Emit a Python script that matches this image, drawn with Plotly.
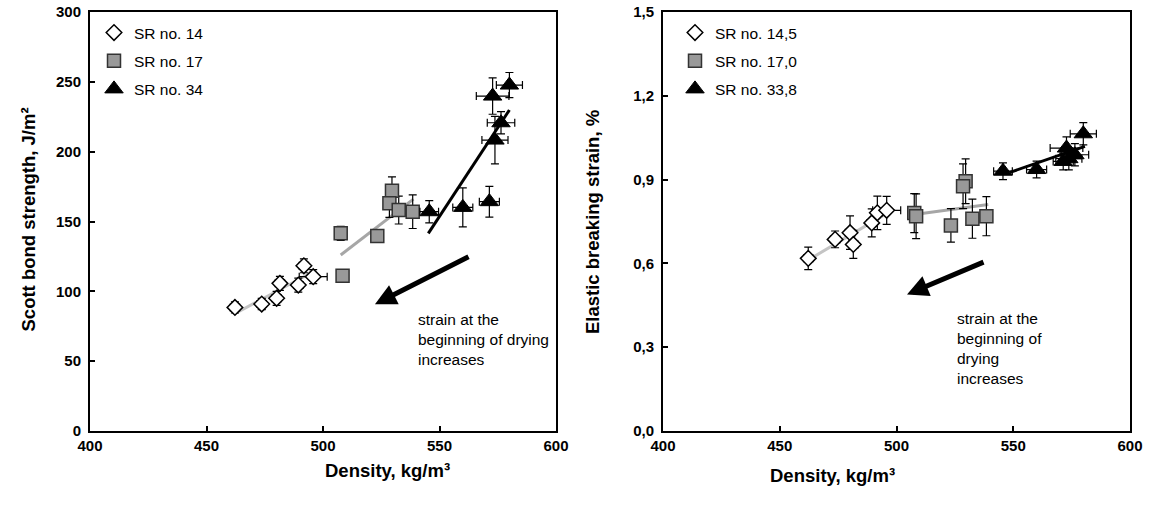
import plotly.graph_objects as go

# ---------------- data ----------------
# density, kg/m3 (same samples in both panels)
dens_14 = [462.2, 473.7, 480.1, 481.5, 489.4, 491.8, 495.8]
dens_17 = [507.6, 523.3, 508.4, 529.6, 528.5, 532.5, 538.5]
dens_34 = [545.6, 560.0, 571.4, 573.8, 572.8, 580.0, 576.4]
dens_err_14 = [2, 2, 2, 2, 2, 2, 6]
dens_err_17 = [2, 1, 1, 2, 2, 2, 2]
dens_err_34 = [4, 4.3, 4.3, 5.6, 7, 5.6, 5.9]

# Scott bond strength, J/m2
scott_14 = [88.5, 90.9, 95.0, 105.7, 104.5, 118.3, 110.5]
scott_17 = [141.5, 139.6, 111.2, 172.0, 163.0, 158.2, 157.0]
scott_34 = [157.0, 160.1, 164.2, 208.3, 239.8, 247.7, 220.7]
scott_err_14 = [4, 4, 5, 5, 5, 5, 5]
scott_err_17 = [5, 3, 3, 10, 10, 10, 12]
scott_err_34 = [8, 14, 11, 17, 13, 9, 8]

# elastic breaking strain, %
strain_14 = [0.618, 0.686, 0.710, 0.668, 0.745, 0.781, 0.790]
strain_17 = [0.780, 0.736, 0.769, 0.894, 0.876, 0.760, 0.769]
strain_34 = [0.930, 0.936, 0.965, 0.975, 1.013, 1.064, 0.989]
strain_err_14 = [0.04, 0.03, 0.06, 0.05, 0.05, 0.06, 0.05]
strain_err_17 = [0.07, 0.06, 0.08, 0.08, 0.08, 0.07, 0.07]
strain_err_34 = [0.03, 0.03, 0.03, 0.04, 0.04, 0.04, 0.04]

# trend lines (end points)
trend_scott_14 = ([462.9, 495.8], [84.7, 114.0])
trend_scott_17 = ([507.6, 538.8], [126.0, 166.0])
trend_scott_34 = ([545.2, 580.0], [141.5, 229.8])
trend_strain_14 = ([463.2, 495.8], [0.617, 0.779])
trend_strain_17 = ([510.8, 539.3], [0.779, 0.811])
trend_strain_34 = ([548.6, 580.7], [0.926, 1.019])

names_left = ["SR no. 14", "SR no. 17", "SR no. 34"]
names_right = ["SR no. 14,5", "SR no. 17,0", "SR no. 33,8"]

x_ticks = [400, 450, 500, 550, 600]
y_ticks_left = [0, 50, 100, 150, 200, 250, 300]
y_ticks_right = [0.0, 0.3, 0.6, 0.9, 1.2, 1.5]

FONT = "Arial, Liberation Sans, sans-serif"
W, H = 1150, 512


def fx(px):                  # screen px -> paper x
    return px / W


def fy(py):                  # screen px -> paper y
    return 1 - py / H


# ---------------- figure ----------------
fig = go.Figure()

styles = [
    dict(symbol="diamond", size=12, color="white", line=dict(color="black", width=1.5)),
    dict(symbol="square", size=13, color="#999999", line=dict(color="#333333", width=1.5)),
    dict(symbol="triangle-up", size=16, color="black", line=dict(color="black", width=1)),
]
trend_colors = ["#c4c4c4", "#a6a6a6", "black"]


def add_panel(xa, ya, dens, dens_err, vals, val_errs, trends, names, legend):
    for i in range(3):
        tx, ty = trends[i]
        fig.add_trace(go.Scatter(x=tx, y=ty, mode="lines", xaxis=xa, yaxis=ya,
                                 line=dict(color=trend_colors[i], width=3),
                                 showlegend=False, hoverinfo="skip"))
    for i in range(3):
        fig.add_trace(go.Scatter(
            x=dens[i], y=vals[i], mode="markers", xaxis=xa, yaxis=ya,
            name=names[i], legend=legend, legendgroup=legend + str(i),
            marker=styles[i],
            error_x=dict(type="data", array=dens_err[i], color="black", thickness=1.2, width=4),
            error_y=dict(type="data", array=val_errs[i], color="black", thickness=1.2, width=4),
        ))


add_panel("x", "y", [dens_14, dens_17, dens_34], [dens_err_14, dens_err_17, dens_err_34],
          [scott_14, scott_17, scott_34], [scott_err_14, scott_err_17, scott_err_34],
          [trend_scott_14, trend_scott_17, trend_scott_34], names_left, "legend")
add_panel("x2", "y2", [dens_14, dens_17, dens_34], [dens_err_14, dens_err_17, dens_err_34],
          [strain_14, strain_17, strain_34], [strain_err_14, strain_err_17, strain_err_34],
          [trend_strain_14, trend_strain_17, trend_strain_34], names_right, "legend2")

axis_common = dict(showline=True, linecolor="black", linewidth=2, mirror=True,
                   ticks="inside", ticklen=5, tickwidth=2, tickcolor="black",
                   showgrid=False, zeroline=False, automargin=False,
                   tickfont=dict(family=FONT, size=15, color="black", weight="bold"))

ydom = [fy(431), fy(12)]
fig.update_layout(
    width=W, height=H, margin=dict(l=0, r=0, t=0, b=0, autoexpand=False),
    paper_bgcolor="white", plot_bgcolor="white",
    separators=",.",
    font=dict(family=FONT, color="black"),
    xaxis=dict(domain=[fx(90), fx(556)], range=[400, 600], tickvals=x_ticks, **axis_common),
    yaxis=dict(domain=ydom, range=[0, 300], tickvals=y_ticks_left, ticklabelstandoff=4, **axis_common),
    xaxis2=dict(domain=[fx(663), fx(1130)], range=[400, 600], tickvals=x_ticks, anchor="y2", **axis_common),
    yaxis2=dict(domain=ydom, range=[0, 1.5], tickvals=y_ticks_right, tickformat=".1f",
                anchor="x2", ticklabelstandoff=4, **axis_common),
    legend=dict(x=fx(94), y=fy(16), xanchor="left", yanchor="top", bgcolor="rgba(0,0,0,0)",
                font=dict(family=FONT, size=15.5, color="black"), tracegroupgap=5,
                itemwidth=30),
    legend2=dict(x=fx(675), y=fy(16), xanchor="left", yanchor="top", bgcolor="rgba(0,0,0,0)",
                 font=dict(family=FONT, size=15.5, color="black"), tracegroupgap=5,
                 itemwidth=30),
)

title_font = dict(family=FONT, size=18.5, color="black", weight="bold")
ann_font = dict(family=FONT, size=15.5, color="black")
annotations = [
    dict(text="Scott bond strength, J/m²", x=fx(15), y=fy(220), xref="paper", yref="paper",
         textangle=-90, showarrow=False, font=title_font),
    dict(text="Elastic breaking strain, %", x=fx(592), y=fy(222), xref="paper", yref="paper",
         textangle=-90, showarrow=False, font=title_font),
    dict(text="Density, kg/m³", x=fx(323), y=fy(483), xref="paper", yref="paper",
         showarrow=False, font=title_font),
    dict(text="Density, kg/m³", x=fx(897), y=fy(488), xref="paper", yref="paper",
         showarrow=False, font=title_font),
    # arrows
    dict(x=522.3, y=90.7, ax=563.1, ay=125.3, xref="x", yref="y", axref="x", ayref="y",
         text="", showarrow=True, arrowhead=2, arrowsize=0.85, arrowwidth=5, arrowcolor="black"),
    dict(x=504.5, y=0.489, ax=537.9, ay=0.607, xref="x2", yref="y2", axref="x2", ayref="y2",
         text="", showarrow=True, arrowhead=2, arrowsize=0.85, arrowwidth=5, arrowcolor="black"),
    dict(text="strain at the<br>beginning of drying<br>increases", x=539.9, y=87.3, xref="x", yref="y",
         xanchor="left", yanchor="top", align="left", showarrow=False, font=ann_font),
    dict(text="strain at the<br>beginning of<br>drying<br>increases", x=525.1, y=0.439, xref="x2", yref="y2",
         xanchor="left", yanchor="top", align="left", showarrow=False, font=ann_font),
]
fig.update_layout(annotations=annotations)

# remove the browser's default 8px body margin so the figure fills the window
fig.write_html("out.html", config={"displayModeBar": False},
               post_script="document.body.style.margin='0px';")
